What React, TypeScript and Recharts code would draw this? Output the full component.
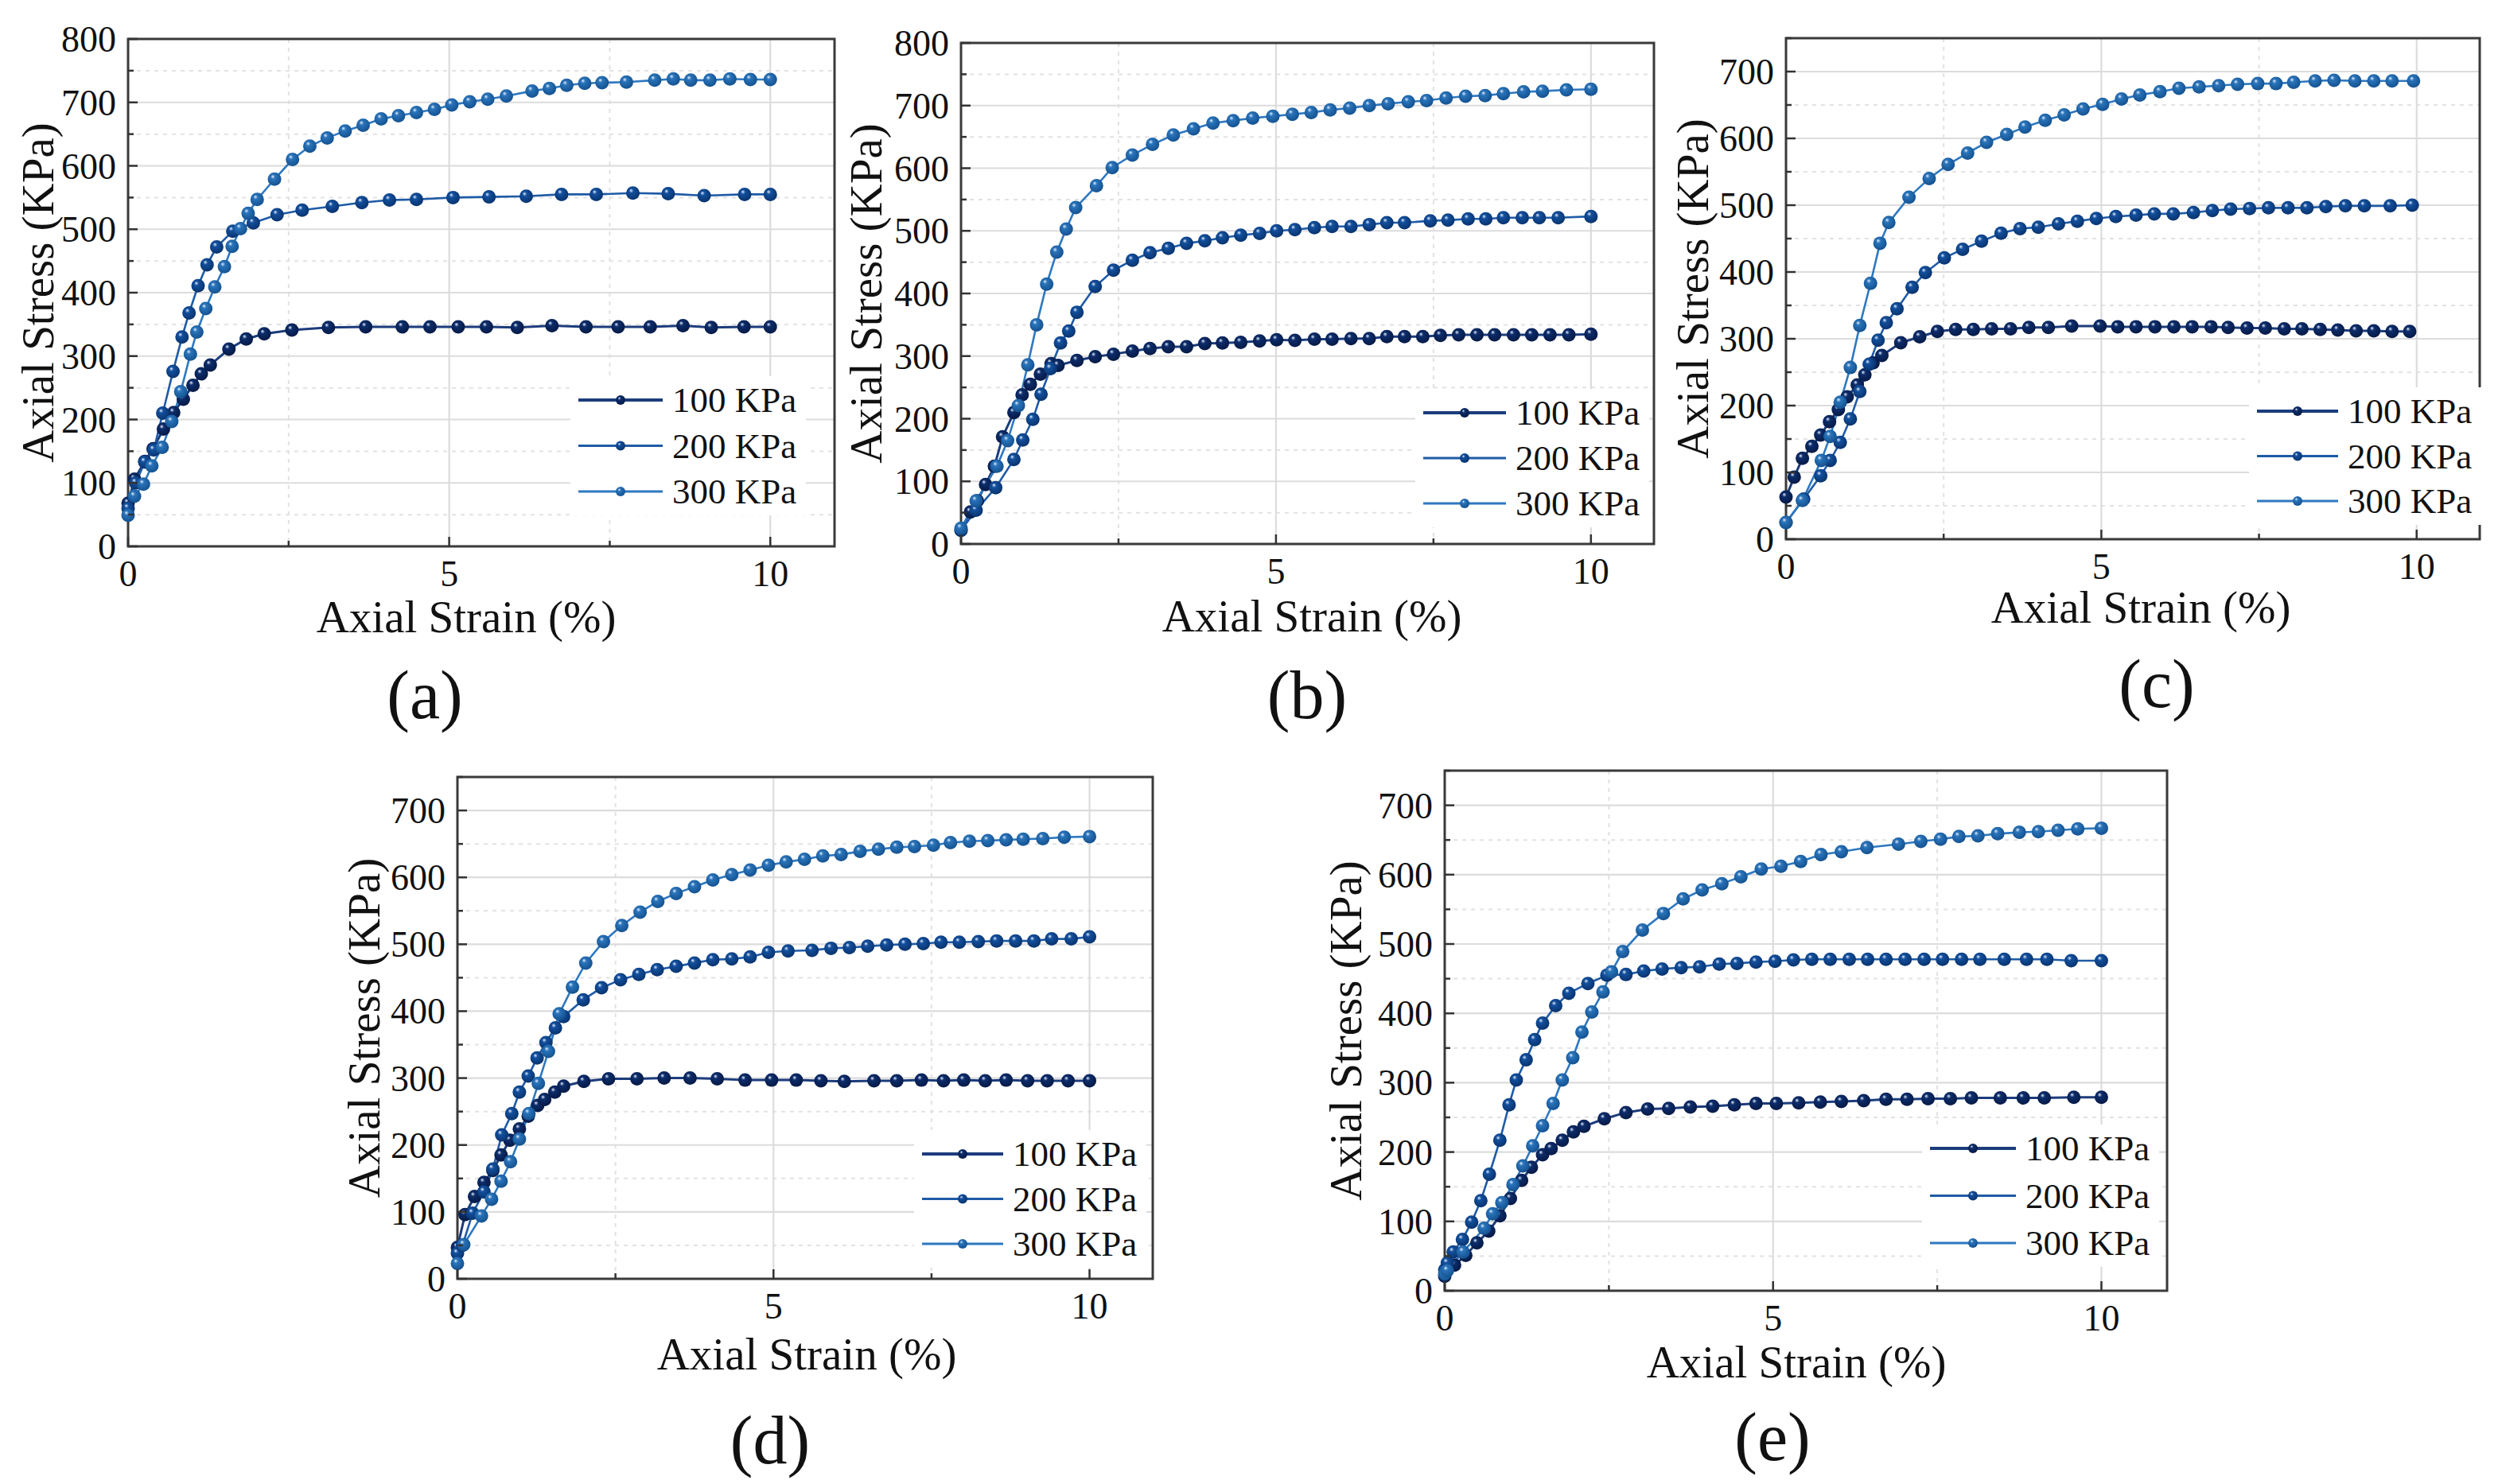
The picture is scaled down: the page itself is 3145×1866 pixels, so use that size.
import { CartesianGrid, Line, LineChart, ReferenceArea, XAxis, YAxis } from "recharts";

const FONT = '"Liberation Serif", "Times New Roman", serif';

// [strain %, stress KPa]
const A100: [number, number][] = [
  [0, 68], [0.1, 106], [0.26, 134], [0.39, 154], [0.55, 185], [0.71, 211], [0.86, 232], [1.01, 254],
  [1.14, 272], [1.28, 286], [1.57, 311], [1.84, 327], [2.12, 335], [2.55, 341], [3.12, 345], [3.7, 346],
  [4.27, 346], [4.7, 346], [5.14, 346], [5.58, 346], [6.06, 345], [6.6, 348], [7.13, 346], [7.63, 346],
  [8.13, 346], [8.64, 348], [9.08, 345], [9.59, 346], [10, 346],
];
const A200: [number, number][] = [
  [0, 60], [0.12, 100], [0.26, 133], [0.4, 152], [0.54, 210], [0.7, 276], [0.84, 330], [0.95, 368],
  [1.09, 411], [1.23, 444], [1.38, 472], [1.63, 497], [1.95, 510], [2.32, 523], [2.71, 530], [3.18, 536],
  [3.64, 542], [4.07, 546], [4.49, 547], [5.06, 550], [5.62, 551], [6.2, 552], [6.75, 555], [7.29, 555],
  [7.86, 557], [8.41, 556], [8.97, 553], [9.6, 555], [10, 555],
];
const A300: [number, number][] = [
  [0, 49], [0.1, 79], [0.24, 98], [0.37, 127], [0.53, 156], [0.68, 197], [0.82, 244], [0.97, 303],
  [1.07, 338], [1.21, 375], [1.35, 409], [1.5, 441], [1.62, 473], [1.75, 501], [1.87, 525], [2.01, 547],
  [2.28, 579], [2.56, 610], [2.83, 631], [3.1, 644], [3.38, 655], [3.66, 664], [3.94, 674], [4.21, 679],
  [4.49, 684], [4.77, 689], [5.04, 696], [5.32, 701], [5.6, 705], [5.89, 710], [6.29, 718], [6.56, 722],
  [6.83, 727], [7.11, 730], [7.38, 731], [7.76, 732], [8.2, 735], [8.49, 737], [8.76, 735], [9.06, 735],
  [9.37, 737], [9.69, 736], [10, 736],
];

const B100: [number, number][] = [
  [0, 22], [0.15, 51], [0.26, 69], [0.39, 95], [0.53, 124], [0.66, 171], [0.84, 210], [0.97, 238],
  [1.1, 255], [1.26, 271], [1.43, 288], [1.54, 285], [1.84, 293], [2.13, 299], [2.42, 303], [2.72, 308],
  [3.0, 312], [3.29, 315], [3.58, 315], [3.87, 320], [4.15, 321], [4.44, 322], [4.74, 324], [5.01, 326],
  [5.3, 325], [5.61, 327], [5.89, 327], [6.19, 328], [6.48, 328], [6.76, 331], [7.04, 331], [7.33, 331],
  [7.61, 333], [7.9, 334], [8.19, 334], [8.47, 334], [8.77, 334], [9.06, 334], [9.35, 334], [9.65, 334],
  [10, 335],
];
const B200: [number, number][] = [
  [0, 22], [0.24, 54], [0.55, 90], [0.84, 135], [0.98, 166], [1.14, 199], [1.27, 239], [1.42, 280],
  [1.58, 321], [1.71, 340], [1.84, 370], [2.13, 411], [2.42, 437], [2.72, 453], [3.0, 465], [3.29, 472],
  [3.58, 480], [3.87, 484], [4.15, 489], [4.44, 493], [4.74, 496], [5.01, 500], [5.3, 502], [5.61, 505],
  [5.89, 507], [6.19, 507], [6.48, 510], [6.76, 513], [7.04, 513], [7.45, 516], [7.73, 517], [8.05, 519],
  [8.33, 519], [8.61, 521], [8.91, 521], [9.18, 521], [9.48, 521], [10, 523],
];
const B300: [number, number][] = [
  [0, 25], [0.24, 69], [0.57, 124], [0.74, 165], [0.91, 221], [1.06, 286], [1.2, 350], [1.36, 415],
  [1.52, 466], [1.67, 503], [1.82, 537], [2.15, 572], [2.4, 601], [2.72, 621], [3.04, 638], [3.37, 653],
  [3.69, 663], [4.0, 672], [4.32, 676], [4.63, 680], [4.95, 683], [5.26, 686], [5.56, 689], [5.86, 693],
  [6.17, 696], [6.48, 700], [6.78, 703], [7.1, 706], [7.39, 708], [7.7, 712], [8.01, 715], [8.32, 716],
  [8.61, 719], [8.93, 722], [9.23, 723], [9.61, 725], [10, 726],
];

const C100: [number, number][] = [
  [0, 63], [0.13, 93], [0.26, 121], [0.41, 139], [0.55, 156], [0.69, 176], [0.83, 194], [0.97, 213],
  [1.13, 231], [1.25, 246], [1.38, 264], [1.52, 275], [1.82, 294], [2.12, 303], [2.4, 311], [2.69, 314],
  [2.97, 314], [3.26, 315], [3.56, 315], [3.85, 317], [4.16, 317], [4.53, 319], [4.98, 319], [5.26, 318],
  [5.55, 318], [5.85, 318], [6.15, 318], [6.44, 318], [6.74, 318], [7.01, 317], [7.31, 316], [7.6, 316],
  [7.9, 315], [8.18, 315], [8.47, 314], [8.75, 313], [9.04, 312], [9.32, 312], [9.61, 311], [9.89, 311],
];
const C200: [number, number][] = [
  [0, 25], [0.28, 60], [0.55, 95], [0.7, 118], [0.86, 145], [1.02, 180], [1.17, 221], [1.32, 262],
  [1.46, 298], [1.59, 324], [1.76, 345], [2.0, 377], [2.21, 399], [2.51, 421], [2.8, 434], [3.1, 446],
  [3.41, 458], [3.71, 465], [4.0, 467], [4.32, 472], [4.62, 476], [4.92, 480], [5.23, 483], [5.55, 485],
  [5.84, 487], [6.14, 487], [6.46, 489], [6.76, 492], [7.05, 494], [7.35, 495], [7.65, 496], [7.96, 496],
  [8.26, 496], [8.56, 498], [8.87, 499], [9.17, 499], [9.58, 499], [9.93, 500],
];
const C300: [number, number][] = [
  [0, 25], [0.26, 58], [0.56, 118], [0.7, 154], [0.86, 205], [1.02, 257], [1.17, 320], [1.34, 383],
  [1.49, 443], [1.63, 474], [1.95, 512], [2.27, 540], [2.57, 561], [2.88, 578], [3.18, 594], [3.5, 606],
  [3.79, 617], [4.11, 627], [4.41, 635], [4.71, 644], [5.02, 651], [5.32, 659], [5.61, 665], [5.93, 670],
  [6.23, 675], [6.55, 677], [6.86, 679], [7.16, 681], [7.48, 682], [7.77, 682], [8.05, 684], [8.39, 686],
  [8.69, 687], [9.02, 686], [9.32, 686], [9.61, 686], [9.95, 686],
];

const D100: [number, number][] = [
  [0, 47], [0.12, 96], [0.27, 123], [0.42, 144], [0.56, 162], [0.69, 185], [0.83, 207], [0.98, 224],
  [1.12, 243], [1.27, 259], [1.38, 268], [1.54, 279], [1.68, 288], [2.0, 295], [2.39, 299], [2.84, 299],
  [3.27, 300], [3.68, 300], [4.11, 299], [4.55, 297], [4.97, 297], [5.36, 297], [5.75, 296], [6.12, 295],
  [6.59, 296], [6.95, 296], [7.34, 297], [7.69, 296], [8.01, 297], [8.35, 296], [8.68, 297], [9.02, 296],
  [9.33, 296], [9.66, 296], [10, 296],
];
const D200: [number, number][] = [
  [0, 38], [0.08, 50], [0.24, 98], [0.42, 130], [0.56, 164], [0.7, 215], [0.86, 247], [0.98, 279],
  [1.12, 303], [1.26, 330], [1.4, 353], [1.55, 375], [1.68, 392], [1.99, 417], [2.28, 435], [2.58, 447],
  [2.87, 455], [3.16, 462], [3.46, 467], [3.75, 472], [4.04, 477], [4.34, 478], [4.63, 481], [4.92, 488],
  [5.23, 490], [5.61, 491], [5.91, 494], [6.2, 495], [6.49, 497], [6.79, 499], [7.08, 500], [7.37, 501],
  [7.65, 503], [7.94, 503], [8.24, 504], [8.53, 505], [8.83, 505], [9.12, 505], [9.4, 508], [9.71, 508],
  [10, 511],
];
const D300: [number, number][] = [
  [0, 23], [0.1, 51], [0.38, 94], [0.54, 119], [0.69, 146], [0.84, 175], [0.98, 209], [1.13, 247],
  [1.28, 292], [1.44, 340], [1.61, 396], [1.82, 436], [2.03, 472], [2.31, 504], [2.6, 528], [2.89, 548],
  [3.17, 564], [3.46, 576], [3.75, 586], [4.04, 596], [4.34, 604], [4.63, 611], [4.92, 618], [5.2, 623],
  [5.49, 627], [5.78, 632], [6.07, 634], [6.37, 639], [6.66, 642], [6.95, 645], [7.23, 646], [7.53, 648],
  [7.8, 652], [8.1, 654], [8.39, 655], [8.68, 656], [8.95, 657], [9.26, 658], [9.6, 660], [10, 661],
];

const E100: [number, number][] = [
  [0, 21], [0.15, 37], [0.32, 51], [0.49, 69], [0.67, 86], [0.84, 108], [1.0, 133], [1.17, 159],
  [1.32, 178], [1.49, 196], [1.62, 205], [1.79, 217], [1.96, 229], [2.12, 237], [2.43, 248], [2.76, 257],
  [3.09, 262], [3.41, 263], [3.74, 265], [4.08, 266], [4.41, 268], [4.74, 270], [5.05, 270], [5.39, 271],
  [5.72, 272], [6.04, 273], [6.38, 274], [6.72, 276], [7.04, 276], [7.36, 277], [7.7, 277], [8.02, 278],
  [8.46, 278], [8.81, 278], [9.13, 278], [9.58, 279], [10, 279],
];
const E200: [number, number][] = [
  [0, 30], [0.04, 40], [0.13, 56], [0.27, 74], [0.41, 99], [0.55, 130], [0.68, 168], [0.84, 217],
  [0.98, 268], [1.09, 304], [1.24, 333], [1.37, 362], [1.49, 386], [1.69, 411], [1.89, 429], [2.18, 443],
  [2.47, 455], [2.76, 456], [3.03, 461], [3.31, 464], [3.6, 466], [3.88, 467], [4.18, 471], [4.45, 472],
  [4.74, 474], [5.03, 475], [5.31, 477], [5.59, 478], [5.87, 478], [6.16, 478], [6.44, 478], [6.72, 478],
  [7.01, 478], [7.3, 478], [7.58, 478], [7.87, 478], [8.15, 478], [8.52, 478], [8.86, 478], [9.17, 478],
  [9.54, 476], [10, 476],
];
const E300: [number, number][] = [
  [0, 24], [0.04, 29], [0.28, 56], [0.6, 90], [0.73, 111], [0.87, 127], [1.04, 153], [1.19, 180],
  [1.34, 209], [1.49, 238], [1.65, 270], [1.79, 304], [1.95, 336], [2.09, 373], [2.24, 402], [2.41, 431],
  [2.54, 460], [2.71, 489], [3.01, 520], [3.33, 544], [3.63, 565], [3.92, 578], [4.22, 587], [4.51, 597],
  [4.82, 608], [5.12, 612], [5.42, 619], [5.73, 629], [6.04, 633], [6.43, 639], [6.91, 644], [7.25, 648],
  [7.55, 651], [7.83, 655], [8.12, 656], [8.42, 659], [8.75, 661], [9.04, 662], [9.34, 664], [9.64, 666],
  [10, 667],
];

const SERIES = [
  { name: "100 KPa", line: "#1c3c7c", dot: "#0d2d6c", dark: "#051842", width: 3, legendWidth: 3.8 },
  { name: "200 KPa", line: "#1f5ba6", dot: "#13509e", dark: "#08316a", width: 2.6, legendWidth: 2.8 },
  { name: "300 KPa", line: "#2e78c0", dot: "#2a74bb", dark: "#124f8c", width: 2.6, legendWidth: 2.8 },
];

type Panel = {
  id: string;
  label: string;
  series: [number, number][][];
  yMax: number;
  left: number;
  top: number;
  w: number;
  h: number;
  yTitleX: number; // baseline of the rotated title, from plot left
  xTitle: [number, number]; // centre x, baseline y
  tag: [number, number]; // centre x, baseline y
  legLine: number;
  legText: number;
  legRows: number[];
};

const PANELS: Panel[] = [
  { id: "a", label: "(a)", series: [A100, A200, A300], yMax: 800, left: 161, top: 49, w: 888, h: 638,
    yTitleX: -94, xTitle: [586, 795], tag: [534, 903], legLine: -322, legText: -204, legRows: [-184, -127, -69] },
  { id: "b", label: "(b)", series: [B100, B200, B300], yMax: 800, left: 1208, top: 54, w: 871, h: 630,
    yTitleX: -100, xTitle: [1649, 794], tag: [1643, 903], legLine: -290, legText: -174, legRows: [-165, -107, -51] },
  { id: "c", label: "(c)", series: [C100, C200, C300], yMax: 750, left: 2245, top: 48, w: 872, h: 630,
    yTitleX: -98, xTitle: [2691, 783], tag: [2711, 889], legLine: -280, legText: -166, legRows: [-161, -103, -48] },
  { id: "d", label: "(d)", series: [D100, D200, D300], yMax: 750, left: 575, top: 977, w: 874, h: 631,
    yTitleX: -98, xTitle: [1014, 1722], tag: [968, 1840], legLine: -290, legText: -176, legRows: [-157, -101, -44] },
  { id: "e", label: "(e)", series: [E100, E200, E300], yMax: 750, left: 1816, top: 969, w: 908, h: 654,
    yTitleX: -105, xTitle: [2258, 1732], tag: [2228, 1836], legLine: -298, legText: -178, legRows: [-179, -119, -60] },
];

const X_TICKS = [0, 2.5, 5, 7.5, 10];
const X_MAJOR_GRID = [5, 10];
const X_MINOR_GRID = [2.5, 7.5];

const range = (max: number, step: number) => {
  const out: number[] = [];
  for (let v = 0; v <= max; v += step) out.push(v);
  return out;
};

const AXIS_W = 150;
const AXIS_H = 80;
const M_TOP = 45;
const M_RIGHT = 30;

function YTick(p: any) {
  const v = p.payload.value;
  const major = v % 100 === 0;
  return (
    <g>
      <line x1={p.x} x2={p.x + (major ? 12 : 7)} y1={p.y} y2={p.y} stroke="#333" strokeWidth={2.5} />
      {major && (
        <text x={p.x - 15} y={p.y + 16} textAnchor="end" fontSize={46} fontFamily={FONT} fill="#111">
          {v}
        </text>
      )}
    </g>
  );
}

function XTick(p: any) {
  const v = p.payload.value;
  const major = v % 5 === 0;
  return (
    <g>
      <line x1={p.x} x2={p.x} y1={p.y} y2={p.y - (major ? 12 : 7)} stroke="#333" strokeWidth={2.5} />
      {major && (
        <text x={p.x} y={p.y + 50} textAnchor="middle" fontSize={46} fontFamily={FONT} fill="#111">
          {v}
        </text>
      )}
    </g>
  );
}

function Sphere({ id, s }: { id: string; s: (typeof SERIES)[number] }) {
  return (
    <radialGradient id={id} cx="0.45" cy="0.42" r="0.62" fx="0.36" fy="0.3">
      <stop offset="0" stopColor="#e6eef9" />
      <stop offset="0.26" stopColor={s.dot} />
      <stop offset="1" stopColor={s.dark} />
    </radialGradient>
  );
}

function PanelLegend({ p }: { p: Panel }) {
  const lineLen = p.legText - p.legLine - 12;
  const rowGap = (p.legRows[2] - p.legRows[0]) / 2;
  const boxW = lineLen + 12 + 10 + 168;
  const boxH = rowGap * 2 + 60;
  const left = p.left + p.w + p.legLine - 10;
  const top = p.top + p.h + p.legRows[0] - 30;
  return (
    <svg width={boxW} height={boxH} style={{ position: "absolute", left, top }}>
      <defs>
        {SERIES.map((s, i) => (
          <Sphere key={i} id={`leg-${p.id}-${i}`} s={s} />
        ))}
      </defs>
      <rect x={0} y={0} width={boxW} height={boxH} fill="#fff" />
      {SERIES.map((s, i) => {
        const y = 30 + i * rowGap;
        return (
          <g key={s.name}>
            <line x1={10} x2={10 + lineLen} y1={y} y2={y} stroke={s.line} strokeWidth={s.legendWidth} />
            <circle cx={10 + lineLen / 2} cy={y} r={6} fill={`url(#leg-${p.id}-${i})`} />
            <text x={10 + lineLen + 12} y={y + 15} fontSize={45} fontFamily={FONT} fill="#111">
              {s.name}
            </text>
          </g>
        );
      })}
    </svg>
  );
}

function StrainChart({ p }: { p: Panel }) {
  const yTicks = range(p.yMax, 50);
  const yMajor = yTicks.filter((v) => v % 100 === 0 && v > 0);
  const yMinor = yTicks.filter((v) => v % 100 !== 0);
  const width = p.w + AXIS_W + M_RIGHT;
  const height = p.h + M_TOP + AXIS_H;
  return (
    <div style={{ position: "absolute", left: p.left - AXIS_W, top: p.top - M_TOP }}>
      <LineChart width={width} height={height} margin={{ top: M_TOP, right: M_RIGHT, bottom: 0, left: 0 }}>
        <defs>
          {SERIES.map((s, i) => (
            <Sphere key={i} id={`dot-${p.id}-${i}`} s={s} />
          ))}
        </defs>
        <CartesianGrid
          horizontalValues={yMinor}
          verticalValues={X_MINOR_GRID}
          stroke="#e2e2e2"
          strokeWidth={2}
          strokeDasharray="5 6"
        />
        <CartesianGrid horizontalValues={yMajor} verticalValues={X_MAJOR_GRID} stroke="#dcdcdc" strokeWidth={2.2} />
        <XAxis
          dataKey="strain"
          type="number"
          domain={[0, 11]}
          ticks={X_TICKS}
          interval={0}
          height={AXIS_H}
          axisLine={false}
          tickLine={false}
          tickSize={0}
          tickMargin={0}
          tick={XTick}
        />
        <YAxis
          type="number"
          domain={[0, p.yMax]}
          ticks={yTicks}
          interval={0}
          width={AXIS_W}
          axisLine={false}
          tickLine={false}
          tickSize={0}
          tickMargin={0}
          tick={YTick}
        />
        {p.series.map((pairs, i) => {
          const s = SERIES[i];
          const rows = pairs.map(([strain, stress]) => ({ strain, stress }));
          return (
            <Line
              key={s.name}
              data={rows}
              dataKey="stress"
              name={s.name}
              type="linear"
              stroke={s.line}
              strokeWidth={s.width}
              isAnimationActive={false}
              dot={(d: any) => (
                <circle key={`${s.name}-${d.index}`} cx={d.cx} cy={d.cy} r={8.5} fill={`url(#dot-${p.id}-${i})`} />
              )}
              activeDot={false}
            />
          );
        })}
        <ReferenceArea
          x1={0}
          x2={11}
          y1={0}
          y2={p.yMax}
          fill="none"
          fillOpacity={0}
          stroke="#3a3a3a"
          strokeWidth={3}
          ifOverflow="visible"
        />
      </LineChart>
    </div>
  );
}

export default function App() {
  return (
    <div style={{ position: "absolute", left: 0, top: 0, width: 3145, height: 1866, background: "#fff", overflow: "hidden" }}>
      {PANELS.map((p) => (
        <div key={p.id}>
          <StrainChart p={p} />
          <PanelLegend p={p} />
        </div>
      ))}
      <svg width={3145} height={1866} style={{ position: "absolute", left: 0, top: 0, pointerEvents: "none" }}>
        {PANELS.map((p) => {
          const tx = p.left + p.yTitleX;
          const ty = p.top + p.h / 2;
          return (
            <g key={p.id} fontFamily={FONT} fill="#111">
              <text x={tx} y={ty} transform={`rotate(-90 ${tx} ${ty})`} textAnchor="middle" fontSize={57}>
                Axial Stress (KPa)
              </text>
              <text x={p.xTitle[0]} y={p.xTitle[1]} textAnchor="middle" fontSize={57}>
                Axial Strain (%)
              </text>
              <text x={p.tag[0]} y={p.tag[1]} textAnchor="middle" fontSize={86}>
                {p.label}
              </text>
            </g>
          );
        })}
      </svg>
    </div>
  );
}
